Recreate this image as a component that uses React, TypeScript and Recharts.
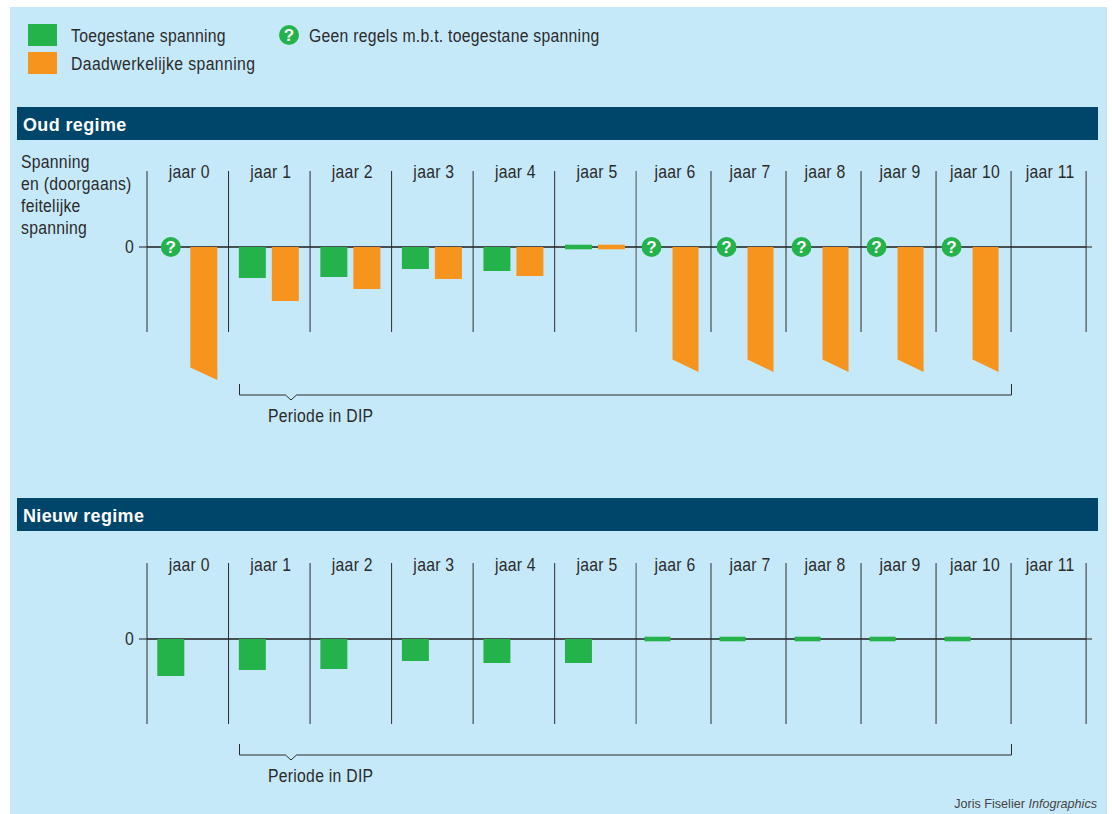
import { BarChart, Bar, XAxis, YAxis, CartesianGrid } from 'recharts'

const jaren = ['jaar 0', 'jaar 1', 'jaar 2', 'jaar 3', 'jaar 4', 'jaar 5', 'jaar 6', 'jaar 7', 'jaar 8', 'jaar 9', 'jaar 10', 'jaar 11']

const toegestaanOud = [0, -31, -30, -22, -24, 0, 0, 0, 0, 0, 0, null]
const werkelijkOud = [-133, -54, -42, -32, -29, 0, -125, -125, -125, -125, -125, null]
const geenRegelsOud = [true, false, false, false, false, false, true, true, true, true, true, false]

const toegestaanNieuw = [-37, -31, -30, -22, -24, -24, 0, 0, 0, 0, 0, null]
const werkelijkNieuw = [null, null, null, null, null, null, null, null, null, null, null, null]
const geenRegelsNieuw = [false, false, false, false, false, false, false, false, false, false, false, false]

const yDomein = [-134, 76]
const yTicks = [0]

const GROEN = '#24b24b'
const ORANJE = '#f7941d'
const BLAUW = '#c6e9fa'
const NAVY = '#00466b'
const INKT = '#2b2b2b'
const FONT = '"Liberation Sans", sans-serif'
const SMAL = 0.9
const AS_HOOGTE = 20

const maakRijen = (toegestaan: (number | null)[], werkelijk: (number | null)[], geenRegels: boolean[]) =>
  jaren.map((jaar, i) => ({ jaar, toegestaan: toegestaan[i], werkelijk: werkelijk[i], geenRegels: geenRegels[i] }))

function Vraagteken({ cx, cy }: { cx: number; cy: number }) {
  return (
    <g>
      <circle cx={cx} cy={cy} r={10} fill={GROEN} />
      <text x={cx} y={cy + 6} textAnchor="middle" fill="#fff" fontFamily={FONT} fontWeight="bold" fontSize={17}>
        ?
      </text>
    </g>
  )
}

// groene balk, of het vraagteken als er geen regels zijn
function ToegestaanVorm({ x, y, width, height, payload, dx, vraagDx }: any) {
  if (payload.geenRegels) return <Vraagteken cx={x + dx + vraagDx + width / 2} cy={y} />
  if (!height) return <rect x={x + dx} y={y - 2.3} width={width} height={4.6} fill={GROEN} />
  return <rect x={x + dx} y={Math.min(y, y + height)} width={width} height={Math.abs(height)} fill={GROEN} />
}

// oranje balk, schuin afgesneden als de spanning doorloopt
function WerkelijkVorm({ x, y, width, height, payload, dx }: any) {
  if (!height) return <rect x={x + dx} y={y - 2.3} width={width} height={4.6} fill={ORANJE} />
  const top = Math.min(y, y + height)
  const bodem = Math.max(y, y + height)
  const left = x + dx
  if (payload.geenRegels) {
    return <polygon points={`${left},${top} ${left + width},${top} ${left + width},${bodem} ${left},${bodem - 12.6}`} fill={ORANJE} />
  }
  return <rect x={left} y={top} width={width} height={bodem - top} fill={ORANJE} />
}

function SmalTekst({ x, y, anchor = 'middle', children }: any) {
  return (
    <text
      transform={`translate(${x} ${y}) scale(${SMAL} 1)`}
      textAnchor={anchor}
      fill={INKT}
      fontFamily={FONT}
      fontSize={17.5}
      letterSpacing={0.3}
    >
      {children}
    </text>
  )
}

function JaarTick({ x, y, payload, index, band, labelDy, aantal }: any) {
  const links = x - band / 2
  return (
    <g>
      <line x1={links} x2={links} y1={y} y2={y + 161} stroke={INKT} />
      {index === aantal - 1 && <line x1={links + band} x2={links + band} y1={y} y2={y + 161} stroke={INKT} />}
      <SmalTekst x={x + 1.5} y={y + labelDy}>{payload.value}</SmalTekst>
    </g>
  )
}

function NulTick({ x, y, payload }: any) {
  return <SmalTekst x={x} y={y + 6} anchor="end">{payload.value}</SmalTekst>
}

function Deel({ rijen, left, top, width, band, labelDy, barSize, barGap, dx, vraagDx, links }: any) {
  const yAs = links ? (
    <YAxis
      width={47}
      domain={yDomein}
      ticks={yTicks}
      axisLine={false}
      tickSize={8}
      tickMargin={5}
      tickLine={{ stroke: '#1c1c1c' }}
      tick={<NulTick />}
    />
  ) : (
    <YAxis
      orientation="right"
      width={10}
      domain={yDomein}
      ticks={yTicks}
      axisLine={false}
      tickSize={6}
      tickLine={{ stroke: '#1c1c1c' }}
      tickFormatter={() => ''}
    />
  )
  return (
    <div style={{ position: 'absolute', left, top: top - AS_HOOGTE }}>
      <BarChart
        width={width}
        height={210 + AS_HOOGTE}
        data={rijen}
        margin={{ top: 0, right: 0, bottom: 0, left: 0 }}
        barSize={barSize}
        barGap={barGap}
      >
        <CartesianGrid vertical={false} stroke="#1c1c1c" strokeWidth={1.4} syncWithTicks />
        <XAxis
          dataKey="jaar"
          orientation="top"
          height={AS_HOOGTE}
          interval={0}
          axisLine={false}
          tickLine={false}
          tickSize={0}
          tickMargin={0}
          tick={<JaarTick band={band} labelDy={labelDy} aantal={rijen.length} />}
        />
        {yAs}
        <Bar dataKey="toegestaan" isAnimationActive={false} shape={<ToegestaanVorm dx={dx} vraagDx={vraagDx} />} />
        <Bar dataKey="werkelijk" isAnimationActive={false} shape={<WerkelijkVorm dx={dx} />} />
      </BarChart>
    </div>
  )
}

function Paneel({ rijen, top, labelDy }: any) {
  return (
    <>
      <Deel rijen={rijen.slice(0, 6)} left={100} top={top} width={536.2} band={81.53} labelDy={labelDy} barSize={27} barGap={6} dx={-0.7} vraagDx={0} links />
      <Deel rijen={rijen.slice(6)} left={636.2} top={top} width={460.1} band={75.02} labelDy={labelDy} barSize={26} barGap={2} dx={-2.5} vraagDx={-6} />
    </>
  )
}

function Haak({ top }: { top: number }) {
  return (
    <svg style={{ position: 'absolute', left: 0, top, overflow: 'visible' }} width={1112} height={20}>
      <polyline
        points="239.5,0 239.5,11 285.5,11 291,16 296.5,11 1011.5,11 1011.5,0"
        fill="none"
        stroke={INKT}
      />
    </svg>
  )
}

function Tekst({ left, top, size = 17.5, spacing = 0.3, color = INKT, weight = 'normal', smal = SMAL, children }: any) {
  return (
    <div
      style={{
        position: 'absolute',
        left,
        top,
        fontFamily: FONT,
        fontSize: size,
        letterSpacing: spacing,
        color,
        fontWeight: weight,
        lineHeight: '22px',
        whiteSpace: 'nowrap',
        transform: `scaleX(${smal})`,
        transformOrigin: 'left center',
      }}
    >
      {children}
    </div>
  )
}

function Kop({ top, children }: any) {
  return (
    <div style={{ position: 'absolute', left: 17, top, width: 1081, height: 33, background: NAVY }}>
      <Tekst left={6} top={7} size={18.5} spacing={0.4} color="#fff" weight="bold" smal={0.97}>
        {children}
      </Tekst>
    </div>
  )
}

export default function App() {
  const rijenOud = maakRijen(toegestaanOud, werkelijkOud, geenRegelsOud)
  const rijenNieuw = maakRijen(toegestaanNieuw, werkelijkNieuw, geenRegelsNieuw)

  return (
    <div style={{ position: 'absolute', left: 0, top: 0, width: 1112, height: 814, background: '#fff', overflow: 'hidden' }}>
      <div style={{ position: 'absolute', left: 10, top: 7, width: 1097, height: 807, background: BLAUW }} />

      <div style={{ position: 'absolute', left: 28, top: 24, width: 29, height: 22, background: GROEN }} />
      <div style={{ position: 'absolute', left: 28, top: 52, width: 29, height: 22, background: ORANJE }} />
      <Tekst left={70.5} top={25}>Toegestane spanning</Tekst>
      <Tekst left={70.5} top={53} spacing={0.45}>Daadwerkelijke spanning</Tekst>
      <svg style={{ position: 'absolute', left: 279, top: 25 }} width={20} height={20}>
        <Vraagteken cx={10} cy={10} />
      </svg>
      <Tekst left={309} top={25}>Geen regels m.b.t. toegestane spanning</Tekst>

      <Kop top={107}>Oud regime</Kop>
      <Tekst left={21} top={151}>Spanning</Tekst>
      <Tekst left={21} top={173}>en (doorgaans)</Tekst>
      <Tekst left={21} top={195}>feitelijke</Tekst>
      <Tekst left={21} top={217}>spanning</Tekst>
      <Paneel rijen={rijenOud} top={170.5} labelDy={6.5} />
      <Haak top={383.5} />
      <Tekst left={268} top={405}>Periode in DIP</Tekst>

      <Kop top={498}>Nieuw regime</Kop>
      <Paneel rijen={rijenNieuw} top={562.5} labelDy={7.5} />
      <Haak top={744} />
      <Tekst left={268} top={764.5}>Periode in DIP</Tekst>

      <div
        style={{
          position: 'absolute',
          right: 15,
          top: 797,
          fontFamily: FONT,
          fontSize: 12.6,
          color: '#444',
          whiteSpace: 'nowrap',
        }}
      >
        Joris Fiselier <i>Infographics</i>
      </div>
    </div>
  )
}
